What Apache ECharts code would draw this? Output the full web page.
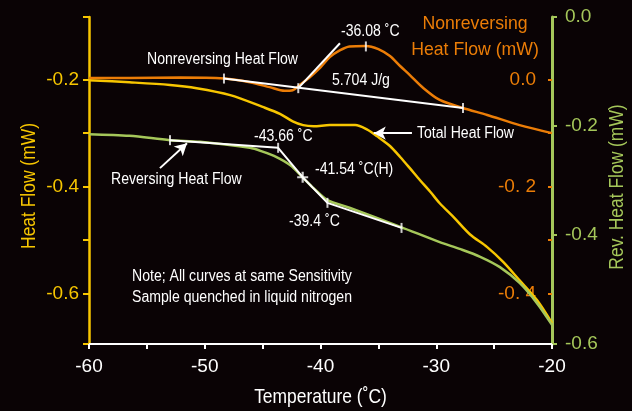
<!DOCTYPE html>
<html>
<head>
<meta charset="utf-8">
<style>
  html, body { margin: 0; padding: 0; background: #0a0305; }
  #chart { width: 632px; height: 411px; }
</style>
<script src="https://cdn.jsdelivr.net/npm/echarts@6/dist/echarts.min.js"></script>
</head>
<body>
<div id="chart"></div>
<script>
// Temperature (°C) and heat flow (mW) readings for the three MDSC signals
const totalT  = [-60, -56.5, -53, -50.7, -47.8, -45, -43.5, -42.4, -41.5, -40.6, -39.2, -37, -36, -35.1, -34, -33.1, -32.3, -31.4, -30.5, -29.7, -28.5, -27.1, -25.6, -24.2, -22.8, -21.3, -20];
const totalHF = [-0.201, -0.205, -0.210, -0.216, -0.229, -0.251, -0.264, -0.278, -0.285, -0.287, -0.285, -0.285, -0.293, -0.306, -0.324, -0.345, -0.365, -0.388, -0.410, -0.431, -0.457, -0.489, -0.513, -0.541, -0.575, -0.612, -0.655];

const nonrevT  = [-60, -56.5, -52.1, -48.3, -46.1, -44.4, -43.1, -42.4, -41.8, -40.9, -40.0, -39.2, -38.3, -37.5, -36.1, -35.0, -34.0, -33.1, -32.3, -31.1, -29.7, -27.7, -25.6, -22.8, -20];
const nonrevHF = [0.003, 0.003, 0.004, 0.002, -0.005, -0.014, -0.021, -0.020, -0.010, 0.005, 0.023, 0.042, 0.055, 0.062, 0.063, 0.057, 0.044, 0.025, 0.009, -0.016, -0.038, -0.053, -0.066, -0.085, -0.100];

const revT  = [-60, -56.5, -53, -50.4, -46.1, -45, -43.8, -42.6, -41.5, -40.6, -39.4, -37.5, -33.1, -29.7, -27.9, -26.2, -24.5, -22.8, -21.3, -20];
const revHF = [-0.215, -0.218, -0.226, -0.229, -0.240, -0.247, -0.257, -0.272, -0.295, -0.314, -0.336, -0.350, -0.385, -0.413, -0.426, -0.440, -0.459, -0.488, -0.525, -0.565];

// Analysis constructions: integration baseline and onset tangent (nonreversing),
// glass-transition tangents (reversing)
const nonrevBaseline = [[-48.34, 0.002], [-27.69, -0.053]];
const nonrevOnset    = [[-41.92, -0.016], [-38.32, 0.068]];
const nonrevTicks    = [[-48.34, 0.002], [-41.92, -0.016], [-36.08, 0.062], [-27.69, -0.053]];
const revTangents    = [[-53.0, -0.226], [-43.66, -0.240], [-41.54, -0.294], [-39.4, -0.341], [-33.0, -0.387]];
const revTicks       = [[-53.0, -0.226], [-43.66, -0.240], [-39.4, -0.341], [-33.0, -0.387]];
const revMidpoint    = [[-41.54, -0.294]];

// Tick labels
const xTickLabels      = [-60, -50, -40, -30, -20];
const leftTickLabels   = [-0.2, -0.4, -0.6];
const nonrevTickLabels = [0.0, -0.2, -0.4];
const revTickLabels    = [0.0, -0.2, -0.4, -0.6];

const FONT = "'Liberation Sans', Arial, sans-serif";
const YELLOW = '#f7c600';
const ORANGE = '#eb7d07';
const GREEN  = '#a5c75a';
const WHITE  = '#ffffff';

const zip = (xs, ys) => xs.map((x, i) => [x, ys[i]]);

// Annotation text placed in pixel space
const notes = [
  { text: 'Nonreversing Heat Flow', x: 147, y: 60 },
  { text: '-36.08 ˚C', x: 341, y: 32 },
  { text: '5.704 J/g', x: 332, y: 81 },
  { text: 'Total Heat Flow', x: 417, y: 134 },
  { text: '-43.66 ˚C', x: 254, y: 137 },
  { text: '-41.54 ˚C(H)', x: 315, y: 170 },
  { text: '-39.4 ˚C', x: 289, y: 222 },
  { text: 'Reversing Heat Flow', x: 111, y: 180 },
  { text: 'Note; All curves at same Sensitivity', x: 132, y: 277 },
  { text: 'Sample quenched in liquid nitrogen', x: 132, y: 298 }
];

const chart = echarts.init(document.getElementById('chart'), null, { renderer: 'canvas' });

const tickSymbol = { type: 'scatter', symbol: 'rect', symbolSize: [2, 10], itemStyle: { color: WHITE }, z: 6, silent: true };

// Condensed lettering: text squeezed horizontally along its own baseline
const narrowText = (text, x, y, size, squeeze, color, align, rotation) => ({
  type: 'text', x, y, rotation: rotation || 0, scaleX: squeeze, z: 10,
  style: { text, fill: color, font: size + 'px ' + FONT, textVerticalAlign: 'middle', textAlign: align }
});

chart.setOption({
  backgroundColor: '#0a0305',
  animation: false,
  textStyle: { fontFamily: FONT },
  grid: { left: 89, right: 80, top: 17, bottom: 67, outerBoundsMode: 'none', containLabel: false },
  xAxis: {
    type: 'value', min: -60, max: -20, interval: 5,
    axisLine: { onZero: false, lineStyle: { color: WHITE, width: 2 } },
    axisTick: { length: 5, lineStyle: { color: WHITE, width: 2 } },
    axisLabel: { customValues: xTickLabels, color: WHITE, fontSize: 19, margin: 13, fontFamily: FONT },
    splitLine: { show: false }
  },
  yAxis: [
    {
      type: 'value', position: 'left', min: -0.694, max: -0.083,
      axisLine: { show: true, onZero: false, lineStyle: { color: YELLOW, width: 2.5 } },
      axisTick: { customValues: [-0.083, -0.2, -0.3, -0.4, -0.5, -0.6, -0.694], length: 6, lineStyle: { color: YELLOW, width: 2 } },
      axisLabel: { customValues: leftTickLabels, color: YELLOW, fontSize: 19, margin: 10, fontFamily: FONT,
                   formatter: v => v.toFixed(1) },
      splitLine: { show: false }
    },
    {
      type: 'value', position: 'right', min: -0.494, max: 0.117,
      axisLine: { show: false, onZero: false },
      axisTick: { show: true, inside: true, customValues: [0, -0.1, -0.2, -0.3, -0.4], length: 4, lineStyle: { color: ORANGE, width: 2 } },
      axisLabel: { inside: true, customValues: nonrevTickLabels, color: ORANGE, fontSize: 19, margin: 16, fontFamily: FONT,
                   formatter: v => (Math.abs(v) < 1e-9 ? '0.0' : '-0. ' + Math.round(Math.abs(v) * 10)) },
      splitLine: { show: false }
    },
    {
      type: 'value', position: 'right', min: -0.6, max: 0,
      axisLine: { show: true, onZero: false, lineStyle: { color: GREEN, width: 3 } },
      axisTick: { customValues: revTickLabels, length: 5, lineStyle: { color: GREEN, width: 2 } },
      axisLabel: { customValues: revTickLabels, color: GREEN, fontSize: 19, margin: 13, fontFamily: FONT,
                   formatter: v => v.toFixed(1) },
      splitLine: { show: false }
    }
  ],
  graphic: [
    narrowText('Nonreversing', 475, 24, 19, 0.93, ORANGE, 'center'),
    narrowText('Heat Flow (mW)', 475, 50, 19, 0.93, ORANGE, 'center'),
    narrowText('Temperature (˚C)', 320.5, 397, 21, 0.83, WHITE, 'center'),
    narrowText('Heat Flow (mW)', 29, 186, 21, 0.83, YELLOW, 'center', Math.PI / 2),
    narrowText('Rev. Heat Flow (mW)', 617, 187, 21, 0.83, GREEN, 'center', Math.PI / 2)
  ].concat(notes.map(n => narrowText(n.text, n.x, n.y, 16, 0.88, WHITE, 'left'))),
  series: [
    {
      name: 'Total Heat Flow', type: 'line', yAxisIndex: 0, data: zip(totalT, totalHF),
      smooth: 0.3, showSymbol: false, lineStyle: { color: YELLOW, width: 2.5 }, z: 3,
      markLine: {
        silent: true, symbol: ['none', 'arrow'], symbolSize: [10, 12], label: { show: false },
        lineStyle: { color: WHITE, width: 2, type: 'solid' },
        data: [
          [{ coord: [-32.1, -0.300] }, { coord: [-35.4, -0.300] }],
          [{ coord: [-53.87, -0.3654] }, { coord: [-51.53, -0.3187] }]
        ]
      }
    },
    {
      name: 'Nonreversing Heat Flow', type: 'line', yAxisIndex: 1, data: zip(nonrevT, nonrevHF),
      smooth: 0.3, showSymbol: false, lineStyle: { color: ORANGE, width: 2.5 }, z: 3
    },
    {
      name: 'Reversing Heat Flow', type: 'line', yAxisIndex: 2, data: zip(revT, revHF),
      smooth: 0.3, showSymbol: false, lineStyle: { color: GREEN, width: 2.5 }, z: 4
    },
    { type: 'line', yAxisIndex: 1, data: nonrevBaseline, showSymbol: false, lineStyle: { color: WHITE, width: 2 }, z: 5 },
    { type: 'line', yAxisIndex: 1, data: nonrevOnset, showSymbol: false, lineStyle: { color: WHITE, width: 2 }, z: 5 },
    { type: 'line', yAxisIndex: 2, data: revTangents, showSymbol: false, lineStyle: { color: WHITE, width: 2 }, z: 5 },
    Object.assign({ yAxisIndex: 1, data: nonrevTicks }, tickSymbol),
    Object.assign({ yAxisIndex: 2, data: revTicks }, tickSymbol),
    {
      type: 'scatter', yAxisIndex: 2, data: revMidpoint, silent: true, z: 6,
      symbol: 'path://M4,0H6V4H10V6H6V10H4V6H0V4H4Z', symbolSize: 11, itemStyle: { color: WHITE }
    }
  ]
});
</script>
</body>
</html>
